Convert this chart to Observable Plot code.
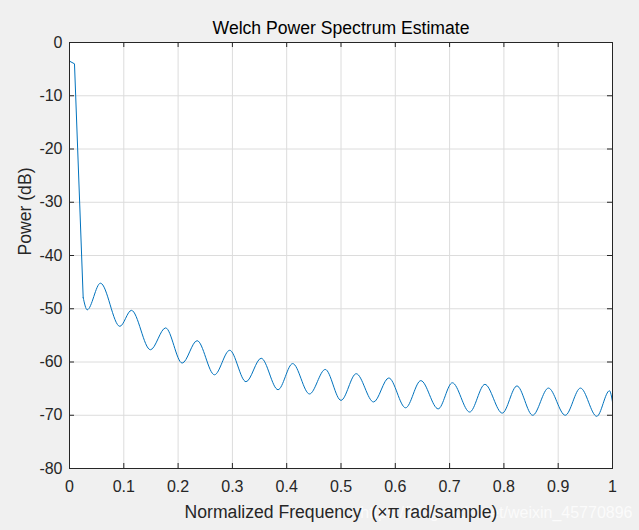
<!DOCTYPE html>
<html>
<head>
<meta charset="utf-8">
<script src="https://cdn.jsdelivr.net/npm/d3@7"></script>
<script src="https://cdn.jsdelivr.net/npm/@observablehq/plot@0.6"></script>
<style>
  html, body { margin: 0; padding: 0; background: #f0f0f0; }
  svg { display: block; }
</style>
</head>
<body>
<div id="chart"></div>
<script>
// Normalized frequency (×π rad/sample) and Welch PSD estimate (dB)
const freq = [0, 0.0092, 0.0252, 0.0326, 0.057, 0.0927, 0.114, 0.149, 0.177, 0.2075,
  0.235, 0.267, 0.295, 0.325, 0.353, 0.384, 0.411, 0.442, 0.471, 0.500,
  0.528, 0.560, 0.588, 0.619, 0.647, 0.679, 0.705, 0.737, 0.765, 0.797,
  0.824, 0.853, 0.882, 0.913, 0.941, 0.971, 0.9945, 1.0];
const powerDb = [-3.5, -4.0, -47.9, -50.2, -45.2, -53.3, -50.3, -57.7, -53.6, -60.2,
  -56.0, -62.4, -57.8, -63.7, -59.3, -65.2, -60.3, -66.0, -61.4, -67.2,
  -62.2, -67.5, -63.0, -68.6, -63.5, -68.8, -63.9, -69.4, -64.2, -69.6,
  -64.5, -70.0, -64.9, -70.0, -64.9, -70.2, -65.4, -67.5];

const xTicks = [0, 0.1, 0.2, 0.3, 0.4, 0.5, 0.6, 0.7, 0.8, 0.9, 1];
const yTicks = [0, -10, -20, -30, -40, -50, -60, -70, -80];
const titleText = "Welch Power Spectrum Estimate";
const xLabel = "Normalized Frequency  (\u00d7\u03c0 rad/sample)";
const yLabel = "Power (dB)";
const watermark = "https://blog.csdn.net/weixin_45770896";

const data = freq.map((f, i) => ({f, p: powerDb[i]}));

const W = 639, H = 530;
const mL = 69, mR = 27, mT = 42, mB = 62;
const pw = W - mL - mR, ph = H - mT - mB;
const tickLen = 5;
const axisColor = "#262626";
const lineColor = "#0072bd";
const fmt = d => String(d);

const chart = Plot.plot({
  width: W,
  height: H,
  marginLeft: mL,
  marginRight: mR,
  marginTop: mT,
  marginBottom: mB,
  style: {background: "#f0f0f0", fontFamily: "'Liberation Sans', Arial, sans-serif", color: axisColor},
  x: {domain: [0, 1]},
  y: {domain: [-80, 0]},
  marks: [
    Plot.frame({fill: "white", stroke: null}),
    Plot.gridX(xTicks, {stroke: "#dcdcdc", strokeOpacity: 1}),
    Plot.gridY(yTicks, {stroke: "#dcdcdc", strokeOpacity: 1}),
    // steep main-lobe roll-off: straight segments
    Plot.line(data.slice(0, 3), {x: "f", y: "p", stroke: lineColor, strokeWidth: 1}),
    // side-lobe ripple
    Plot.line(data.slice(2), {x: "f", y: "p", stroke: lineColor, strokeWidth: 1, curve: "monotone-x"}),
    Plot.frame({stroke: axisColor, strokeWidth: 1}),
    Plot.tickX(xTicks, {x: d => d, insetTop: ph - tickLen, stroke: axisColor}),
    Plot.tickX(xTicks, {x: d => d, insetBottom: ph - tickLen, stroke: axisColor}),
    Plot.tickY(yTicks, {y: d => d, insetRight: pw - tickLen, stroke: axisColor}),
    Plot.tickY(yTicks, {y: d => d, insetLeft: pw - tickLen, stroke: axisColor}),
    Plot.axisX(xTicks, {anchor: "bottom", tickSize: 0, tickPadding: 12, tickFormat: fmt, fontSize: 16, label: null, fill: axisColor}),
    Plot.axisY(yTicks, {anchor: "left", tickSize: 0, tickPadding: 7, tickFormat: fmt, fontSize: 16, label: null, fill: axisColor}),
    Plot.text([titleText], {frameAnchor: "top", dy: -14, lineAnchor: "middle", fontSize: 17.6, fill: "#000"}),
    Plot.text([watermark], {frameAnchor: "bottom-right", textAnchor: "end", dx: 20, dy: 44, lineAnchor: "middle", fontSize: 16, fill: "#ffffff", fillOpacity: 0.75}),
    Plot.text([xLabel], {frameAnchor: "bottom", dy: 44, lineAnchor: "middle", fontSize: 17.6, fill: axisColor}),
    Plot.text([yLabel], {frameAnchor: "left", dx: -44, rotate: -90, lineAnchor: "middle", fontSize: 17.6, fill: axisColor})
  ]
});
document.getElementById("chart").appendChild(chart);
</script>
</body>
</html>
